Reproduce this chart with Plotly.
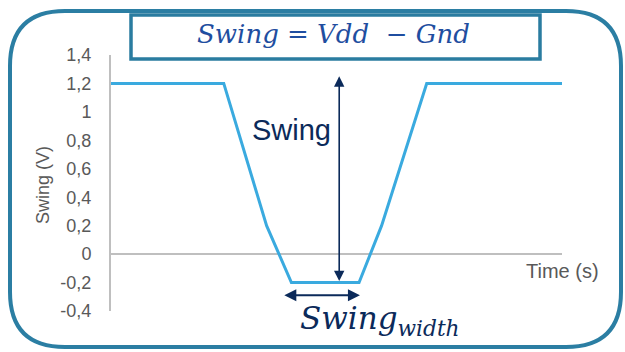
import plotly.graph_objects as go

# ---- data ----
time_vals = [0, 25, 34.5, 40, 55, 60, 70, 100]
swing_vals = [1.2, 1.2, 0.2, -0.2, -0.2, 0.2, 1.2, 1.2]
y_tick_vals = [1.4, 1.2, 1.0, 0.8, 0.6, 0.4, 0.2, 0.0, -0.2, -0.4]
y_tick_text = ["1,4", "1,2", "1", "0,8", "0,6", "0,4", "0,2", "0", "-0,2", "-0,4"]
vdd_level = 1.25
gnd_level = -0.2
arrow_x = 50.6
width_start = 38.1
width_end = 55.2
width_y = -0.29

W, H = 625, 352
L, R, T, B = 111, 63, 55, 41
PW, PH = W - L - R, H - T - B


def px(x):
    return (x - L) / PW


def py(y):
    return (H - B - y) / PH


def rounded_rect(x0, y0, x1, y1, r):
    rx = r / PW
    ry = r / PH
    X0, X1 = px(x0), px(x1)
    Y0, Y1 = py(y0), py(y1)
    return (f"M {X0+rx},{Y0} L {X1-rx},{Y0} Q {X1},{Y0} {X1},{Y0-ry} "
            f"L {X1},{Y1+ry} Q {X1},{Y1} {X1-rx},{Y1} "
            f"L {X0+rx},{Y1} Q {X0},{Y1} {X0},{Y1+ry} "
            f"L {X0},{Y0-ry} Q {X0},{Y0} {X0+rx},{Y0} Z")


fig = go.Figure()
fig.add_trace(go.Scatter(x=time_vals, y=swing_vals, mode="lines",
                         line=dict(color="#3aaadf", width=3),
                         hoverinfo="skip", showlegend=False, cliponaxis=False))

navy = "#0b2a5a"
gray = "#595959"

fig.update_layout(
    width=W, height=H,
    margin=dict(l=L, r=R, t=T, b=B, pad=0),
    paper_bgcolor="white", plot_bgcolor="white",
    showlegend=False,
    font=dict(family="Liberation Sans, Arial", color=gray, size=16),
    xaxis=dict(range=[0, 100], visible=False, showgrid=False, zeroline=False),
    yaxis=dict(range=[-0.4, 1.4], tickvals=y_tick_vals, ticktext=y_tick_text,
               showgrid=False, zeroline=True, zerolinecolor="#bfbfbf", zerolinewidth=2,
               showline=True, linecolor="#bfbfbf", linewidth=2,
               ticks="", ticklabelstandoff=14,
               tickfont=dict(size=18, color=gray)),
    shapes=[
        dict(type="path", xref="paper", yref="paper", layer="below",
             path=rounded_rect(10, 11, 621, 347, 55),
             line=dict(color="#2b7ea3", width=4), fillcolor="rgba(0,0,0,0)"),
        dict(type="rect", xref="paper", yref="paper",
             x0=px(131), x1=px(540), y0=py(15), y1=py(59),
             line=dict(color="#2a7ca0", width=3.5), fillcolor="white"),
    ],
    annotations=[
        dict(xref="paper", yref="paper", x=px(333), y=py(34),
             xanchor="center", yanchor="middle",
             text="<i>Swing = Vdd  − Gnd</i>", showarrow=False,
             font=dict(family="DejaVu Serif", size=26, color="#1f4ea0")),
        dict(x=arrow_x, y=vdd_level, ax=arrow_x, ay=gnd_level,
             xref="x", yref="y", axref="x", ayref="y", text="",
             showarrow=True, arrowhead=2, startarrowhead=2, arrowside="end+start",
             arrowsize=1.3, startarrowsize=1.3, arrowwidth=1.6, arrowcolor=navy),
        dict(x=width_end, y=width_y, ax=width_start, ay=width_y,
             xref="x", yref="y", axref="x", ayref="y", text="",
             showarrow=True, arrowhead=2, startarrowhead=2, arrowside="end+start",
             arrowsize=1.2, startarrowsize=1.2, arrowwidth=2, arrowcolor=navy),
        dict(x=49.3, y=0.875, xref="x", yref="y", xanchor="right", yanchor="middle",
             text="Swing", showarrow=False,
             font=dict(family="Liberation Sans, Arial", size=29, color=navy)),
        dict(xref="paper", yref="paper", x=px(380), y=py(320),
             xanchor="center", yanchor="middle",
             text="<i>Swing<sub>width</sub></i>", showarrow=False,
             font=dict(family="DejaVu Serif", size=31, color=navy)),
        dict(xref="paper", yref="paper", x=px(562), y=py(271),
             xanchor="center", yanchor="middle",
             text="Time (s)", showarrow=False,
             font=dict(family="Liberation Sans, Arial", size=20, color=gray)),
        dict(xref="paper", yref="paper", x=px(43), y=py(185),
             xanchor="center", yanchor="middle",
             text="Swing (V)", showarrow=False, textangle=-90,
             font=dict(family="Liberation Sans, Arial", size=18, color=gray)),
    ],
)

fig.write_html("out.html", config={"displayModeBar": False},
               post_script="document.body.style.margin='0';document.body.style.padding='0';")
